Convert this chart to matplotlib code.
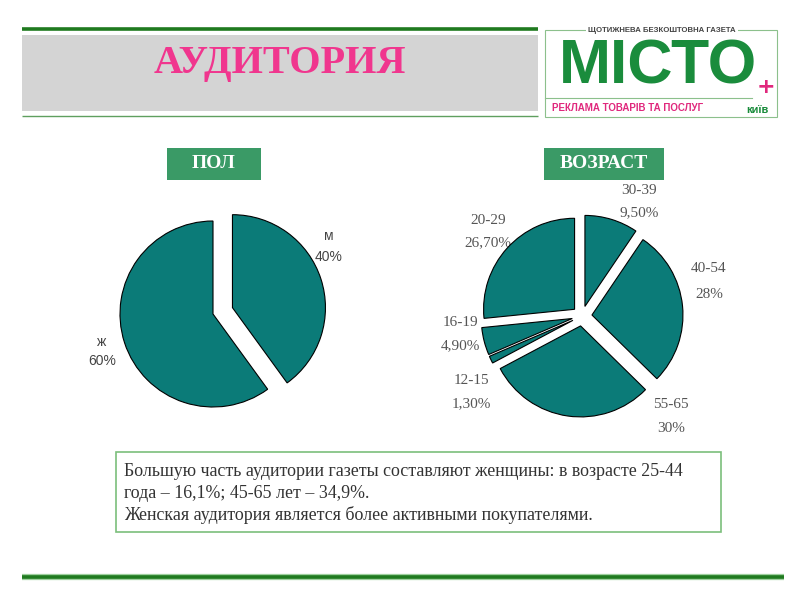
import matplotlib
matplotlib.use("Agg")
import matplotlib.pyplot as plt
from matplotlib.patches import Rectangle

# ---------------- data ----------------
title = "АУДИТОРИЯ"
gender_labels = ["м", "ж"]
gender_values = [40, 60]
age_labels = ["30-39", "40-54", "55-65", "12-15", "16-19", "20-29"]
age_values = [9.5, 28, 30, 1.3, 4.9, 26.7]
box_gender = "ПОЛ"
box_age = "ВОЗРАСТ"
note_lines = [
    "Большую часть аудитории газеты составляют женщины: в возрасте 25-44",
    "года – 16,1%; 45-65 лет – 34,9%.",
    "Женская аудитория является более активными покупателями.",
]
logo_top = "ЩОТИЖНЕВА БЕЗКОШТОВНА ГАЗЕТА"
logo_main = "МІСТО"
logo_sub = "РЕКЛАМА ТОВАРІВ ТА ПОСЛУГ"
logo_city = "київ"

# ---------------- layout / style ----------------
TEAL = "#0b7b78"
GREEN_BOX = "#3a9a66"
PINK = "#f0368e"
W, H = 800, 600
# label positions (pixels) for pies
gender_label_pos = [(329, 236, 257), (102, 342, 361)]
age_label_pos = [(639, 191, 213), (709, 269, 294), (671, 405, 428),
                 (471, 381, 404), (460, 323, 346), (488, 220, 243)]


def fmt(v):
    s = f"{v:.0f}%" if float(v).is_integer() else f"{v:.2f}%"
    return s.replace(".", ",")


fig = plt.figure(figsize=(8, 6), dpi=100)
fig.patch.set_facecolor("white")
bg = fig.add_axes([0, 0, 1, 1])
bg.set_xlim(0, W)
bg.set_ylim(H, 0)
bg.axis("off")

# title band
bg.plot([22, 538], [29, 29], color="#1f7a1f", lw=2.6, solid_capstyle="butt")
bg.add_patch(Rectangle((22, 35), 516, 76, facecolor="#d4d4d4", edgecolor="none"))
bg.plot([22, 538], [116, 116], color="#5f9f5f", lw=1.0, solid_capstyle="butt")
bg.text(280, 64, title, ha="center", va="center", color=PINK, fontsize=29,
        fontweight="bold", family=["Liberation Serif", "DejaVu Serif"])

# logo
bg.add_patch(Rectangle((545, 30), 232, 87, facecolor="white", edgecolor="#8cc08c", lw=0.8))
bg.text(662, 31, logo_top, ha="center", va="center", fontsize=5.6, fontweight="bold",
        color="#444444", family=["Liberation Sans", "DejaVu Sans"],
        bbox=dict(facecolor="white", edgecolor="none", pad=1.5))
bg.text(559, 67, logo_main, ha="left", va="center", fontsize=45, fontweight="bold",
        color="#1a8c3c", family=["Liberation Sans", "DejaVu Sans"])
bg.plot([545, 752], [98, 98], color="#8cc08c", lw=0.8)
bg.text(552, 108, logo_sub, ha="left", va="center", fontsize=7, fontweight="bold",
        color="#e0287d", family=["Liberation Sans", "DejaVu Sans"])
bg.text(766, 87, "+", ha="center", va="center", fontsize=16, fontweight="bold",
        color="#e0287d", family=["DejaVu Sans"])
bg.text(757, 110, logo_city, ha="center", va="center", fontsize=8, fontweight="bold",
        color="#1a8c3c", family=["Liberation Sans", "DejaVu Sans"])

# section boxes
for (x0, x1), txt in [((167, 261), box_gender), ((544, 664), box_age)]:
    bg.add_patch(Rectangle((x0, 148), x1 - x0, 32, facecolor=GREEN_BOX, edgecolor="none"))
    bg.text((x0 + x1) / 2, 164, txt, ha="center", va="center", color="white",
            fontsize=14, fontweight="bold", family=["Liberation Serif", "DejaVu Serif"])


def pie_axes(cx, cy, r, k=1.45):
    ax = fig.add_axes([(cx - k * r) / W, 1 - (cy + k * r) / H, 2 * k * r / W, 2 * k * r / H])
    ax.patch.set_visible(False)
    return ax, k


# gender pie
ax1, k1 = pie_axes(213, 314, 93)
ax1.pie(gender_values, startangle=90, counterclock=False, explode=[0.22, 0.0],
        colors=[TEAL, TEAL], wedgeprops=dict(edgecolor="black", linewidth=0.8))
ax1.set_xlim(-k1, k1)
ax1.set_ylim(-k1, k1)
ax1.axis("off")
for lab, v, (x, y1, y2) in zip(gender_labels, gender_values, gender_label_pos):
    bg.text(x, y1, lab, ha="center", va="center", fontsize=10, color="#444444",
            family=["Liberation Sans", "DejaVu Sans"])
    bg.text(x, y2, fmt(v), ha="center", va="center", fontsize=10, color="#444444",
            family=["Liberation Sans", "DejaVu Sans"])

# age pie
ax2, k2 = pie_axes(582, 316, 91)
ax2.pie(age_values, startangle=90, counterclock=False, explode=[0.11] * len(age_values),
        colors=[TEAL] * len(age_values), wedgeprops=dict(edgecolor="black", linewidth=0.8))
ax2.set_xlim(-k2, k2)
ax2.set_ylim(-k2, k2)
ax2.axis("off")
for lab, v, (x, y1, y2) in zip(age_labels, age_values, age_label_pos):
    bg.text(x, y1, lab, ha="center", va="center", fontsize=11, color="#555555",
            family=["Liberation Serif", "DejaVu Serif"])
    bg.text(x, y2, fmt(v), ha="center", va="center", fontsize=11, color="#555555",
            family=["Liberation Serif", "DejaVu Serif"])

# note box
bg.add_patch(Rectangle((116, 452), 605, 80, facecolor="white", edgecolor="#7cbf7c", lw=1.2))
for i, line in enumerate(note_lines):
    bg.text(124, 472 + 21.5 * i, line, ha="left", va="center", fontsize=12.9, color="#333333",
            family=["Liberation Serif", "DejaVu Serif"])

# bottom rule
bg.plot([22, 784], [577, 577], color="#9fd09f", lw=4.5, solid_capstyle="butt")
bg.plot([22, 784], [577, 577], color="#1f7a1f", lw=2.6, solid_capstyle="butt")

fig.savefig("out.png", dpi=100)
